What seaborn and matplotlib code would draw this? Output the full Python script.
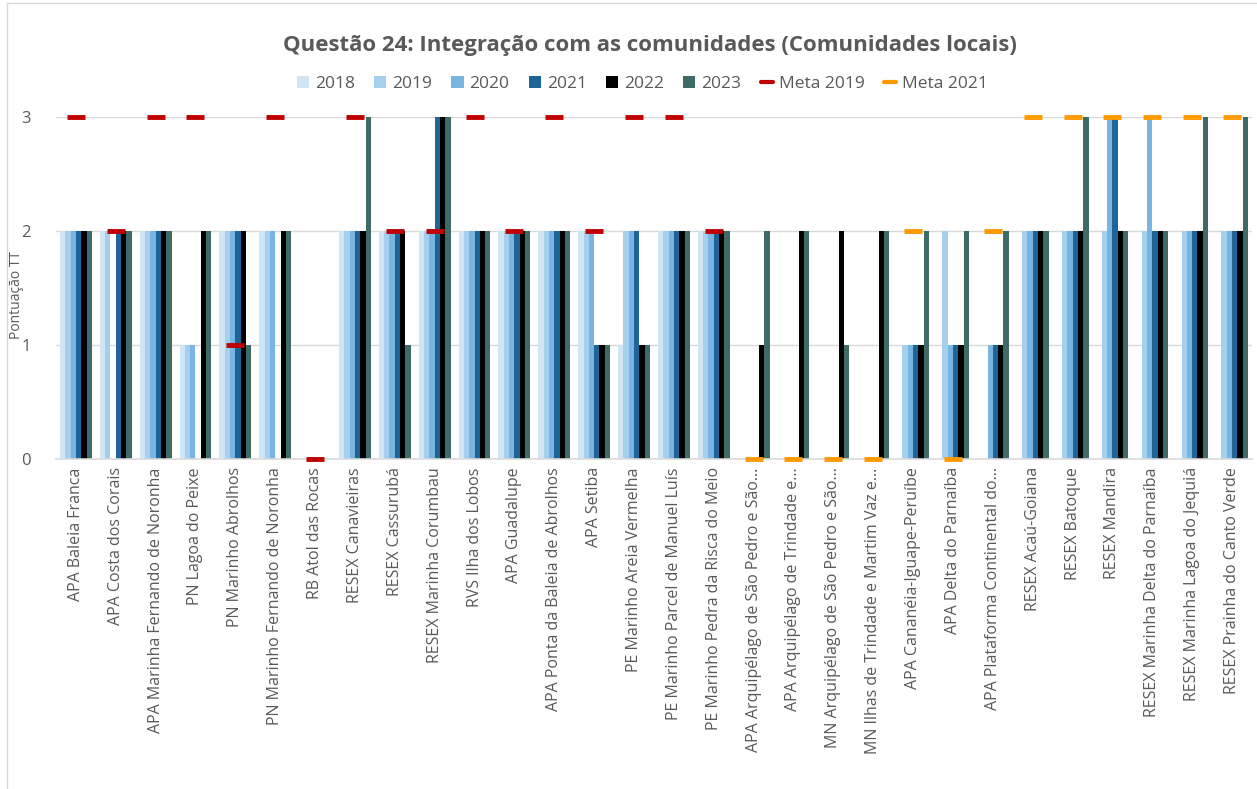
import numpy as np
import pandas as pd
import matplotlib
matplotlib.use("Agg")
import matplotlib.pyplot as plt
import seaborn as sns
from matplotlib.patches import Patch
from matplotlib.lines import Line2D

sns.set_theme(style="white")
plt.rcParams['font.family'] = ['Open Sans', 'DejaVu Sans']

# unidades de conservação (eixo x)
ucs = [
    "APA Baleia Franca", "APA Costa dos Corais", "APA Marinha Fernando de Noronha",
    "PN Lagoa do Peixe", "PN Marinho Abrolhos", "PN Marinho Fernando de Noronha",
    "RB Atol das Rocas", "RESEX Canavieiras", "RESEX Cassurubá",
    "RESEX Marinha Corumbau", "RVS Ilha dos Lobos", "APA Guadalupe",
    "APA Ponta da Baleia de Abrolhos", "APA Setiba", "PE Marinho Areia Vermelha",
    "PE Marinho Parcel de Manuel Luís", "PE Marinho Pedra da Risca do Meio",
    "APA Arquipélago de São Pedro e São…", "APA Arquipélago de Trindade e…",
    "MN Arquipélago de São Pedro e São…", "MN Ilhas de Trindade e Martim Vaz e…",
    "APA Cananéia-Iguape-Peruíbe", "APA Delta do Parnaíba",
    "APA Plataforma Continental do…", "RESEX Acaú-Goiana", "RESEX Batoque",
    "RESEX Mandira", "RESEX Marinha Delta do Parnaíba",
    "RESEX Marinha Lagoa do Jequiá", "RESEX Prainha do Canto Verde",
]

n = np.nan
v2018 = [2, 2, 2, 1, 2, 2, n, 2, 2, 2, 2, 2, 2, 2, 1, 2, 2, n, n, n, n, n, n, n, n, n, n, n, n, n]
v2019 = [2, 2, 2, 1, 2, 2, n, 2, 2, 2, 2, 2, 2, 2, 2, 2, 2, n, n, n, n, 1, 2, n, 2, 2, 2, 2, 2, 2]
v2020 = [2, n, 2, 1, 2, 2, n, 2, 2, 2, 2, 2, 2, 2, 2, 2, 2, n, n, n, n, 1, 1, 1, 2, 2, 3, 3, 2, 2]
v2021 = [2, 2, 2, n, 2, n, n, 2, 2, 3, 2, 2, 2, 1, 2, 2, 2, n, n, n, n, 1, 1, 1, 2, 2, 3, 2, 2, 2]
v2022 = [2, 2, 2, 2, 2, 2, n, 2, 2, 3, 2, 2, 2, 1, 1, 2, 2, 1, 2, 2, 2, 1, 1, 1, 2, 2, 2, 2, 2, 2]
v2023 = [2, 2, 2, 2, 1, 2, n, 3, 1, 3, 2, 2, 2, 1, 1, 2, 2, 2, 2, 1, 2, 2, 2, 2, 2, 3, 2, 2, 3, 3]

meta2019 = [3, 2, 3, 3, 1, 3, 0, 3, 2, 2, 3, 2, 3, 2, 3, 3, 2] + [n] * 13
meta2021 = [n] * 17 + [0, 0, 0, 0, 2, 0, 2, 3, 3, 3, 3, 3, 3]

anos = ["2018", "2019", "2020", "2021", "2022", "2023"]
cores = ["#D0E6F6", "#A6CFEE", "#78B5E3", "#1F6496", "#000000", "#3E6B66"]
cor_meta2019 = "#C00000"
cor_meta2021 = "#FF9900"
cinza = "#595959"

# formato longo para o seaborn
series = dict(zip(anos, [v2018, v2019, v2020, v2021, v2022, v2023]))
df = pd.DataFrame([(uc, ano, vals[i]) for ano, vals in series.items()
                   for i, uc in enumerate(ucs)], columns=["uc", "ano", "valor"])

fig = plt.figure(figsize=(12.57, 7.89), dpi=100)
ax = fig.add_axes([0.0445, 0.4183, 0.9515, 0.4335])

sns.barplot(data=df, x="uc", y="valor", hue="ano", order=ucs, hue_order=anos,
            palette=cores, saturation=1, errorbar=None, width=0.8,
            linewidth=0, legend=False, ax=ax)

pos = np.arange(len(ucs))
ax.plot(pos, meta2019, linestyle="none", marker="_", markersize=12.5,
        markeredgewidth=3.5, color=cor_meta2019, clip_on=False, zorder=5)
ax.plot(pos, meta2021, linestyle="none", marker="_", markersize=12.5,
        markeredgewidth=3.5, color=cor_meta2021, clip_on=False, zorder=5)

ax.set_xlim(-0.5, len(ucs) - 0.5)
ax.set_ylim(0, 3)
ax.set_yticks([0, 1, 2, 3])
ax.yaxis.grid(True, color="#D9D9D9", linewidth=1)
ax.set_axisbelow(True)
for s in ["top", "right", "left"]:
    ax.spines[s].set_visible(False)
ax.spines["bottom"].set_color("#D9D9D9")
ax.spines["bottom"].set_linewidth(1.2)

ax.set_xlabel("")
ax.set_ylabel("Pontuação TT", fontsize=10, color=cinza)
ax.yaxis.set_label_coords(-0.027, 0.48)
ax.tick_params(axis="x", labelrotation=90, labelsize=11.5, colors=cinza, length=0, pad=6)
ax.tick_params(axis="y", labelsize=12, colors=cinza, length=0, pad=18)

fig.text(0.517, 1 - 45 / 789, "Questão 24: Integração com as comunidades (Comunidades locais)",
         ha="center", va="center", fontsize=16, fontweight="bold", color=cinza)

handles = [Patch(facecolor=c, edgecolor="none", label=a) for a, c in zip(anos, cores)]
handles += [Line2D([], [], color=cor_meta2019, linewidth=3, label="Meta 2019"),
            Line2D([], [], color=cor_meta2021, linewidth=3, label="Meta 2021")]
leg = fig.legend(handles=handles, loc="center", bbox_to_anchor=(0.511, 1 - 84 / 789),
                 ncol=8, frameon=False, fontsize=12.5, handlelength=0.7, handleheight=0.7,
                 handletextpad=0.35, columnspacing=1.1)
for t in leg.get_texts():
    t.set_color(cinza)

# borda da área do gráfico
fig.add_artist(Line2D([7 / 1257, 1], [1 - 3 / 789, 1 - 3 / 789], color="#D9D9D9", linewidth=1))
fig.add_artist(Line2D([7 / 1257, 7 / 1257], [0, 1 - 3 / 789], color="#D9D9D9", linewidth=1))

fig.savefig("out.png", dpi=100)
